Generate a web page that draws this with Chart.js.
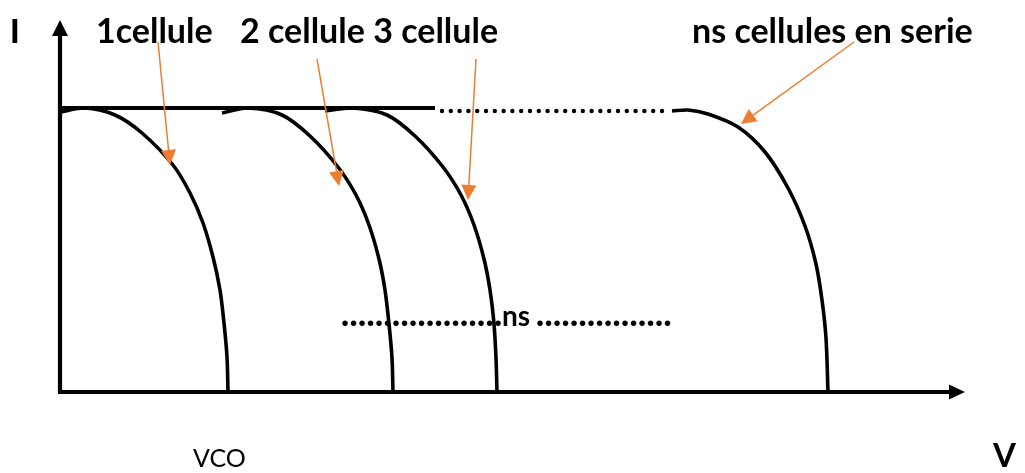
<!DOCTYPE html>
<html><head><meta charset="utf-8">
<script src="https://cdn.jsdelivr.net/npm/chart.js@4/dist/chart.umd.min.js"></script>
<style>html,body{margin:0;padding:0;background:#fff}canvas{display:block}</style>
</head><body>
<canvas id="c" width="1025" height="473"></canvas>
<script>
// I-V curves (V, I), arbitrary units
const curve1 = [[0,280],[25,284],[55,277],[82,259],[113,227],[130,199],[143,169],[153,135],[160,102],[164,69],[167,35],[168,0]];
const curve2 = [[162,279],[188,284],[222,277],[250,256],[278,225],[296,197],[309,167],[319,133],[325,102],[329,68],[332,34],[333,0]];
const curve3 = [[265,281],[293,284],[327,277],[355,256],[383,225],[401,197],[414,167],[424,133],[430,102],[434,68],[436,34],[437,0]];
const curveNs = [[612,281],[628,282],[648,278],[678,265],[705,240],[728,204],[745,166],[756,128],[762,92],[766,54],[768,0]];
const iscLine = [[0,284],[375,284]];
const iscDots = [[382,281],[610,281]];
// annotation arrows: [fromV, fromI, toV, toI]
const arrows = [[98,350,110,227],[257,333,279,206],[416,333,408,192],[794,350,681,268]];
const axisRange = {vMax: 905, iMax: 372};
const titleLabels = ['1cellule', '2 cellule 3 cellule', 'ns cellules en serie'];
const axisLabels = {i: 'I', v: 'V', vco: 'VCO'};
const middleLabel = 'ns';

const toPts = a => a.map(p => ({x: p[0], y: p[1]}));
const lineDs = (d, w) => ({data: toPts(d), showLine: true, borderColor: '#000', borderWidth: w,
  pointRadius: 0, tension: 0.3, fill: false, borderCapStyle: 'butt', borderJoinStyle: 'round'});

const dotted = lineDs(iscDots, 4.4);
dotted.borderDash = [0, 8.8];
dotted.borderCapStyle = 'round';
dotted.tension = 0;

const overlay = {
  id: 'overlay',
  afterDraw(chart) {
    const ctx = chart.ctx, xs = chart.scales.x, ys = chart.scales.y;
    const X = v => xs.getPixelForValue(v), Y = i => ys.getPixelForValue(i);
    ctx.save();
    // axes
    ctx.strokeStyle = '#000'; ctx.fillStyle = '#000'; ctx.lineWidth = 4.2; ctx.lineCap = 'butt';
    const x0 = X(0), y0 = Y(0);
    ctx.beginPath(); ctx.moveTo(x0, y0 + 2); ctx.lineTo(x0, Y(axisRange.iMax) + 14); ctx.stroke();
    ctx.beginPath(); ctx.moveTo(x0 - 8, Y(axisRange.iMax) + 16); ctx.lineTo(x0, Y(axisRange.iMax)); ctx.lineTo(x0 + 8, Y(axisRange.iMax) + 16); ctx.closePath(); ctx.fill();
    ctx.lineWidth = 3.8;
    ctx.beginPath(); ctx.moveTo(x0 - 2, y0); ctx.lineTo(X(axisRange.vMax) - 14, y0); ctx.stroke();
    ctx.beginPath(); ctx.moveTo(X(axisRange.vMax) - 16, y0 - 7.5); ctx.lineTo(X(axisRange.vMax), y0); ctx.lineTo(X(axisRange.vMax) - 16, y0 + 7.5); ctx.closePath(); ctx.fill();
    // orange arrows
    ctx.strokeStyle = '#ED7D31'; ctx.fillStyle = '#ED7D31'; ctx.lineWidth = 1.5;
    arrows.forEach(a => {
      const fx = X(a[0]), fy = Y(a[1]), tx = X(a[2]), ty = Y(a[3]);
      const ang = Math.atan2(ty - fy, tx - fx), L = 15, H = 7.5;
      const bx = tx - L * Math.cos(ang), by = ty - L * Math.sin(ang);
      ctx.beginPath(); ctx.moveTo(fx, fy); ctx.lineTo(bx, by); ctx.stroke();
      ctx.beginPath(); ctx.moveTo(tx, ty);
      ctx.lineTo(bx + H * Math.sin(ang), by - H * Math.cos(ang));
      ctx.lineTo(bx - H * Math.sin(ang), by + H * Math.cos(ang));
      ctx.closePath(); ctx.fill();
    });
    // texts
    ctx.fillStyle = '#000'; ctx.textBaseline = 'alphabetic'; ctx.textAlign = 'left';
    ctx.font = '900 32px Lato';
    ctx.fillText(axisLabels.i, 10, 43);
    ctx.font = 'bold 34px Lato';
    ctx.fillText(titleLabels[0], 96, 43);
    ctx.fillText(titleLabels[1], 240, 43);
    ctx.fillText(titleLabels[2], 692, 43);
    ctx.font = 'bold 33px Lato';
    ctx.fillText(axisLabels.v, 993, 467);
    ctx.font = '25px Lato';
    ctx.fillText(axisLabels.vco, 193, 467);
    // middle "....ns...."
    ctx.font = '900 34px Lato';
    const dotRow = (n, startX) => { for (let k = 0; k < n; k++) ctx.fillText('.', startX + k * 8.5, 326); };
    dotRow(19, 341);
    ctx.font = 'bold 28px Lato';
    ctx.fillText(middleLabel, 502, 326);
    ctx.font = '900 34px Lato';
    dotRow(16, 536);
    ctx.restore();
  }
};

new Chart(document.getElementById('c'), {
  type: 'scatter',
  data: {datasets: [lineDs(curve1, 3.6), lineDs(curve2, 3.6), lineDs(curve3, 3.6), lineDs(curveNs, 3.6), lineDs(iscLine, 3.8), dotted]},
  options: {
    responsive: false, animation: false, events: [],
    layout: {padding: {left: 60, right: 60, top: 20, bottom: 81}},
    plugins: {legend: {display: false}, tooltip: {enabled: false}},
    scales: {
      x: {type: 'linear', min: 0, max: axisRange.vMax, display: false},
      y: {type: 'linear', min: 0, max: axisRange.iMax, display: false}
    }
  },
  plugins: [overlay]
});
</script>
</body></html>
